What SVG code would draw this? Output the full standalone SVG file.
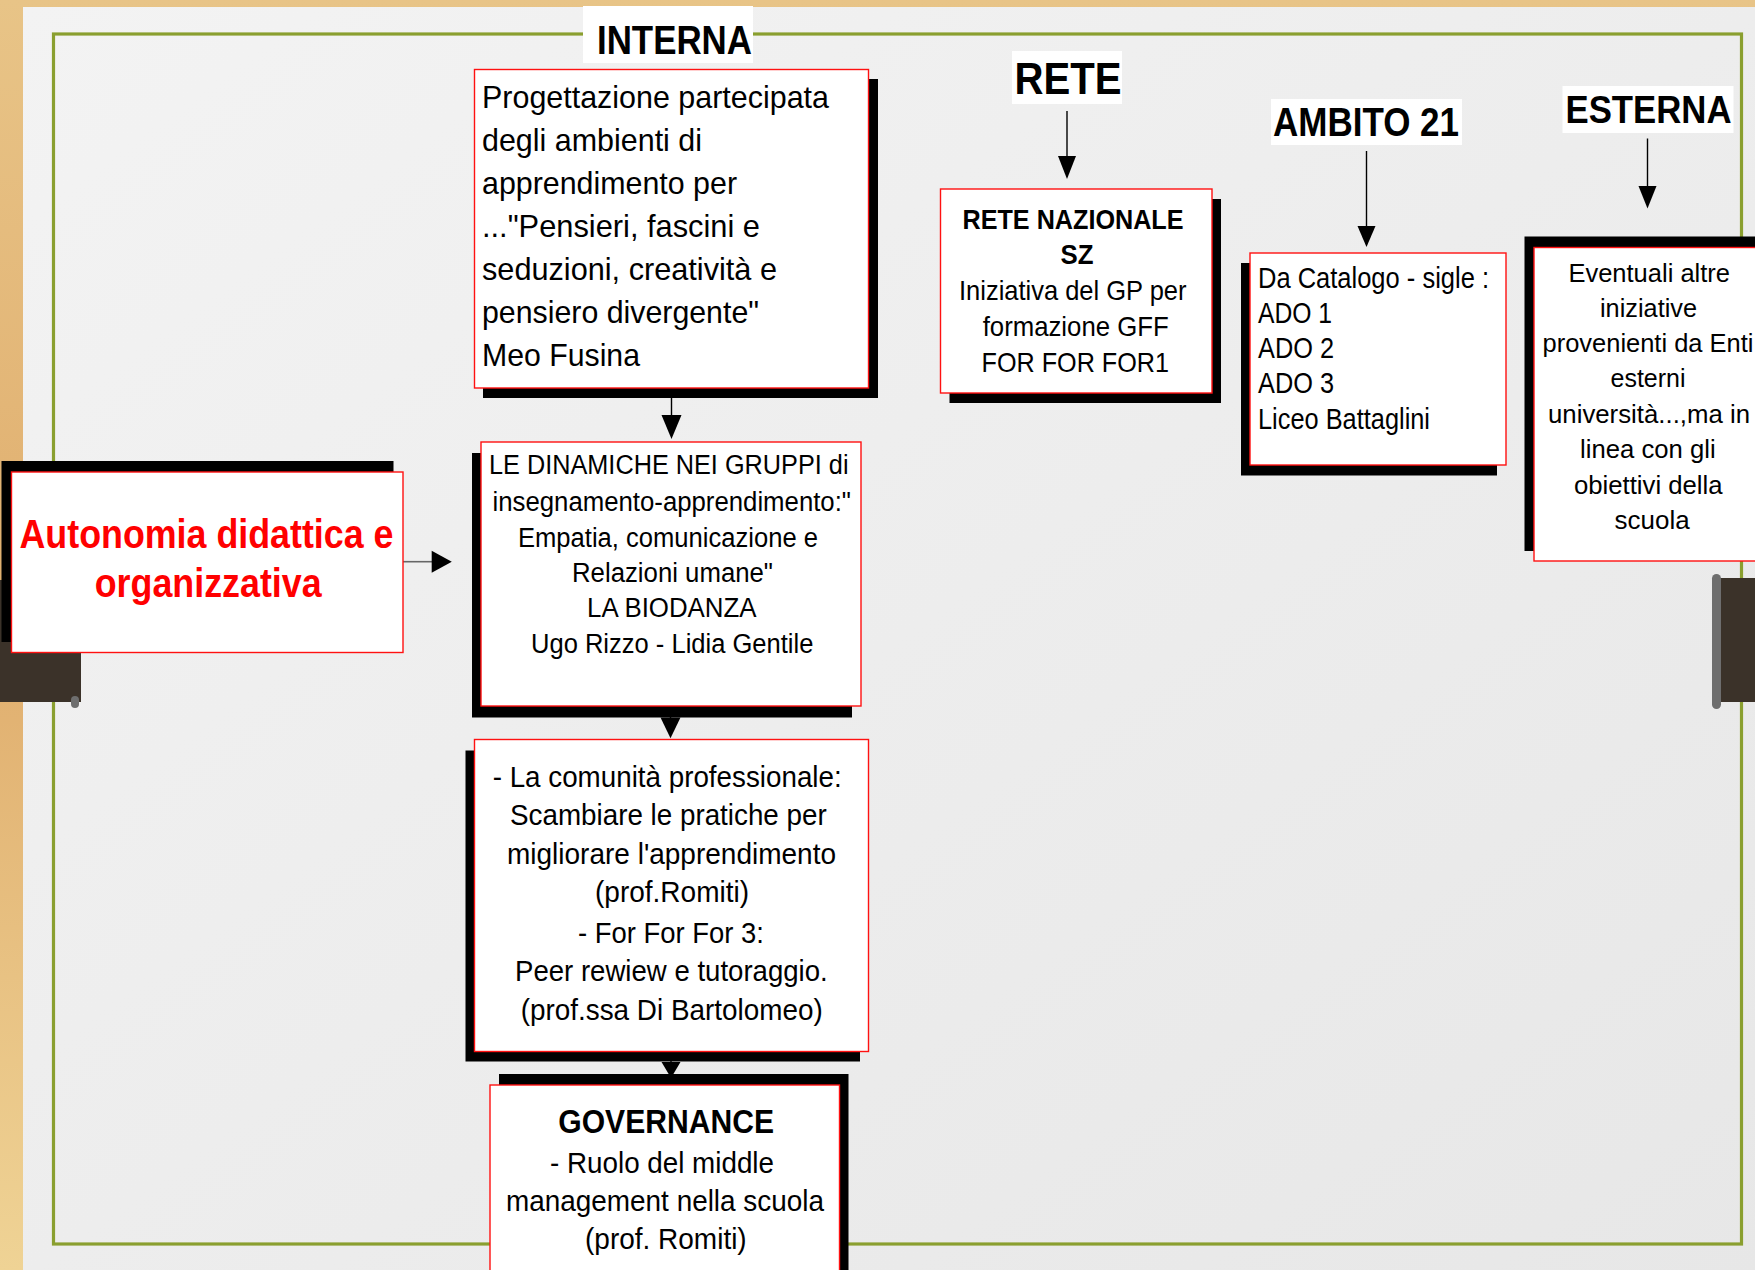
<svg xmlns="http://www.w3.org/2000/svg" width="1755" height="1270" viewBox="0 0 1755 1270">
<defs>
<style>
.t{font-family:"Liberation Sans",Arial,Helvetica,sans-serif;fill:#000}
.b{font-weight:bold}
.box{fill:#fff;stroke:#ff1111;stroke-width:1.4}
.sh{fill:#000}
.lbl{fill:#fff}
.ln{stroke:#000;stroke-width:1.4;fill:none}
.hd{fill:#000}
.tab{fill:#3b3229}
.nub{fill:#6e6e6e}
</style>
<linearGradient id="gold" x1="0" y1="0" x2="0" y2="1">
<stop offset="0" stop-color="#e8c487"/>
<stop offset="0.5" stop-color="#e0ae6e"/>
<stop offset="1" stop-color="#efd395"/>
</linearGradient>
<linearGradient id="paper" x1="0" y1="0" x2="1" y2="1">
<stop offset="0" stop-color="#f3f3f3"/>
<stop offset="1" stop-color="#e7e7e7"/>
</linearGradient>
</defs>

<g id="background">
<rect x="0" y="0" width="1755" height="1270" fill="url(#gold)"/>
<rect x="23" y="7" width="1740" height="1270" fill="url(#paper)"/>
</g>

<g id="frame">
<rect x="53.5" y="34" width="1688" height="1210" fill="none" stroke="#8a9f2f" stroke-width="3.2"/>
</g>

<g id="tabs">
<rect class="tab" x="0" y="580" width="81" height="122"/>
<rect class="nub" x="71" y="696" width="8" height="12" rx="4"/>
<rect class="tab" x="1715" y="578" width="45" height="124"/>
<rect class="nub" x="1712" y="574" width="9" height="135" rx="4.5"/>
</g>

<g id="labels">
<g id="label-interna">
<rect class="lbl" x="583" y="6" width="170" height="57"/>
<text class="t b" x="597" y="54" font-size="40" textLength="155" lengthAdjust="spacingAndGlyphs">INTERNA</text>
</g>
<g id="label-rete">
<rect class="lbl" x="1012" y="51" width="110" height="53"/>
<text class="t b" x="1014.5" y="94" font-size="45" textLength="107" lengthAdjust="spacingAndGlyphs">RETE</text>
</g>
<g id="label-ambito">
<rect class="lbl" x="1271" y="99" width="191" height="46"/>
<text class="t b" x="1273" y="136" font-size="40" textLength="186" lengthAdjust="spacingAndGlyphs">AMBITO 21</text>
</g>
<g id="label-esterna">
<rect class="lbl" x="1562.5" y="86" width="171" height="47"/>
<text class="t b" x="1565.5" y="123" font-size="38" textLength="166" lengthAdjust="spacingAndGlyphs">ESTERNA</text>
</g>
</g>

<g id="connectors">
<line class="ln" x1="1067" y1="111" x2="1067" y2="158"/>
<polygon class="hd" points="1058,156 1076,156 1067,179"/>
<line class="ln" x1="1366.5" y1="151" x2="1366.5" y2="228"/>
<polygon class="hd" points="1357.5,226 1375.5,226 1366.5,247"/>
<line class="ln" x1="1647.5" y1="138.5" x2="1647.5" y2="188"/>
<polygon class="hd" points="1638.5,186 1656.5,186 1647.5,208.6"/>
<line class="ln" x1="671.5" y1="388" x2="671.5" y2="417"/>
<polygon class="hd" points="661.5,415 681.5,415 671.5,439"/>
<line x1="403" y1="561.7" x2="433" y2="561.7" stroke="#666" stroke-width="1.6"/>
<polygon class="hd" points="431.7,550.7 431.7,572.7 451.8,561.7"/>
<line class="ln" x1="670.5" y1="706" x2="670.5" y2="720"/>
<polygon class="hd" points="660.5,717.5 680.5,717.5 670.5,738.3"/>
<line class="ln" x1="671" y1="1051" x2="671" y2="1064"/>
<polygon class="hd" points="661.5,1062 680.5,1062 671,1078"/>
</g>

<g id="node-progettazione">
<rect class="sh" x="483" y="79" width="395" height="319"/>
<rect class="box" x="474.5" y="69.5" width="394" height="318.5"/>
<g class="t" font-size="32">
<text x="482" y="108" textLength="347" lengthAdjust="spacingAndGlyphs">Progettazione partecipata</text>
<text x="482" y="151" textLength="220" lengthAdjust="spacingAndGlyphs">degli ambienti di</text>
<text x="482" y="194" textLength="255" lengthAdjust="spacingAndGlyphs">apprendimento per</text>
<text x="482" y="237" textLength="278" lengthAdjust="spacingAndGlyphs">..."Pensieri, fascini e</text>
<text x="482" y="280" textLength="295" lengthAdjust="spacingAndGlyphs">seduzioni, creatività e</text>
<text x="482" y="323" textLength="277" lengthAdjust="spacingAndGlyphs">pensiero divergente"</text>
<text x="482" y="366" textLength="158" lengthAdjust="spacingAndGlyphs">Meo Fusina</text>
</g>
</g>

<g id="node-rete-nazionale">
<rect class="sh" x="949.5" y="199" width="271.5" height="204"/>
<rect class="box" x="940.5" y="189" width="271.5" height="204"/>
<g class="t" font-size="28">
<text class="b" x="962.5" y="228.5" textLength="221" lengthAdjust="spacingAndGlyphs">RETE NAZIONALE</text>
<text class="b" x="1060.6" y="264" textLength="33" lengthAdjust="spacingAndGlyphs">SZ</text>
<text x="959" y="300" textLength="227.5" lengthAdjust="spacingAndGlyphs">Iniziativa del GP per</text>
<text x="982.7" y="336" textLength="186" lengthAdjust="spacingAndGlyphs">formazione GFF</text>
<text x="981.5" y="372" textLength="187.5" lengthAdjust="spacingAndGlyphs">FOR FOR FOR1</text>
</g>
</g>

<g id="node-catalogo">
<rect class="sh" x="1241" y="263" width="256" height="212.5"/>
<rect class="box" x="1250" y="253" width="256" height="212"/>
<g class="t" font-size="29">
<text x="1258" y="288" textLength="231" lengthAdjust="spacingAndGlyphs">Da Catalogo - sigle :</text>
<text x="1258" y="323" textLength="74" lengthAdjust="spacingAndGlyphs">ADO 1</text>
<text x="1258" y="358" textLength="76" lengthAdjust="spacingAndGlyphs">ADO 2</text>
<text x="1258" y="393" textLength="76" lengthAdjust="spacingAndGlyphs">ADO 3</text>
<text x="1258" y="429" textLength="172" lengthAdjust="spacingAndGlyphs">Liceo Battaglini</text>
</g>
</g>

<g id="node-eventuali">
<rect class="sh" x="1524.5" y="236.5" width="280" height="314.5"/>
<rect class="box" x="1534" y="247.5" width="280" height="313.5"/>
<g class="t" font-size="26">
<text x="1568.4" y="282" textLength="161.6" lengthAdjust="spacingAndGlyphs">Eventuali altre</text>
<text x="1600" y="317" textLength="97" lengthAdjust="spacingAndGlyphs">iniziative</text>
<text x="1542.5" y="352" textLength="211" lengthAdjust="spacingAndGlyphs">provenienti da Enti</text>
<text x="1610.5" y="387" textLength="75" lengthAdjust="spacingAndGlyphs">esterni</text>
<text x="1548" y="423" textLength="202" lengthAdjust="spacingAndGlyphs">università...,ma in</text>
<text x="1580" y="458" textLength="135.6" lengthAdjust="spacingAndGlyphs">linea con gli</text>
<text x="1574" y="494" textLength="148.5" lengthAdjust="spacingAndGlyphs">obiettivi della</text>
<text x="1614.6" y="529" textLength="75" lengthAdjust="spacingAndGlyphs">scuola</text>
</g>
</g>

<g id="node-autonomia">
<rect class="sh" x="1.5" y="461" width="392" height="181"/>
<rect class="box" x="11.5" y="472" width="391.5" height="180.5"/>
<g class="t b" font-size="40" style="fill:#ff0000">
<text x="19.5" y="548.3" textLength="374" lengthAdjust="spacingAndGlyphs">Autonomia didattica e</text>
<text x="94.7" y="596.7" textLength="227" lengthAdjust="spacingAndGlyphs">organizzativa</text>
</g>
</g>

<g id="node-dinamiche">
<rect class="sh" x="472" y="453" width="380" height="264.5"/>
<rect class="box" x="481" y="442" width="380" height="264"/>
<g class="t" font-size="27">
<text x="489" y="474.3" textLength="359.5" lengthAdjust="spacingAndGlyphs">LE DINAMICHE NEI GRUPPI di</text>
<text x="492.5" y="510.7" textLength="358.5" lengthAdjust="spacingAndGlyphs">insegnamento-apprendimento:"</text>
<text x="518" y="546.7" textLength="300" lengthAdjust="spacingAndGlyphs">Empatia, comunicazione e</text>
<text x="572" y="582.3" textLength="201" lengthAdjust="spacingAndGlyphs">Relazioni umane"</text>
<text x="587" y="617.3" textLength="169.6" lengthAdjust="spacingAndGlyphs">LA BIODANZA</text>
<text x="531" y="653.3" textLength="282.4" lengthAdjust="spacingAndGlyphs">Ugo Rizzo - Lidia Gentile</text>
</g>
</g>

<g id="node-comunita">
<rect class="sh" x="465.5" y="750.5" width="394.5" height="311"/>
<rect class="box" x="474.5" y="739.5" width="394" height="312"/>
<g class="t" font-size="29.5">
<text x="492.7" y="786.6" textLength="349" lengthAdjust="spacingAndGlyphs">- La comunità professionale:</text>
<text x="510" y="825.2" textLength="316.7" lengthAdjust="spacingAndGlyphs">Scambiare le pratiche per</text>
<text x="507" y="863.8" textLength="329" lengthAdjust="spacingAndGlyphs">migliorare l'apprendimento</text>
<text x="595" y="902.4" textLength="154" lengthAdjust="spacingAndGlyphs">(prof.Romiti)</text>
<text x="578" y="942.7" textLength="186" lengthAdjust="spacingAndGlyphs">- For For For 3:</text>
<text x="515" y="981.3" textLength="312.7" lengthAdjust="spacingAndGlyphs">Peer rewiew e tutoraggio.</text>
<text x="520.7" y="1019.9" textLength="302" lengthAdjust="spacingAndGlyphs">(prof.ssa Di Bartolomeo)</text>
</g>
</g>

<g id="node-governance">
<rect class="sh" x="499" y="1074" width="349.5" height="210"/>
<rect class="box" x="490" y="1085" width="349.5" height="210"/>
<g class="t" font-size="29.5">
<text class="b" x="558.3" y="1133.2" font-size="34" textLength="215.7" lengthAdjust="spacingAndGlyphs">GOVERNANCE</text>
<text x="550" y="1172.5" textLength="224" lengthAdjust="spacingAndGlyphs">- Ruolo del middle</text>
<text x="506" y="1211" textLength="318" lengthAdjust="spacingAndGlyphs">management nella scuola</text>
<text x="585" y="1249" textLength="161.7" lengthAdjust="spacingAndGlyphs">(prof. Romiti)</text>
</g>
</g>
</svg>
